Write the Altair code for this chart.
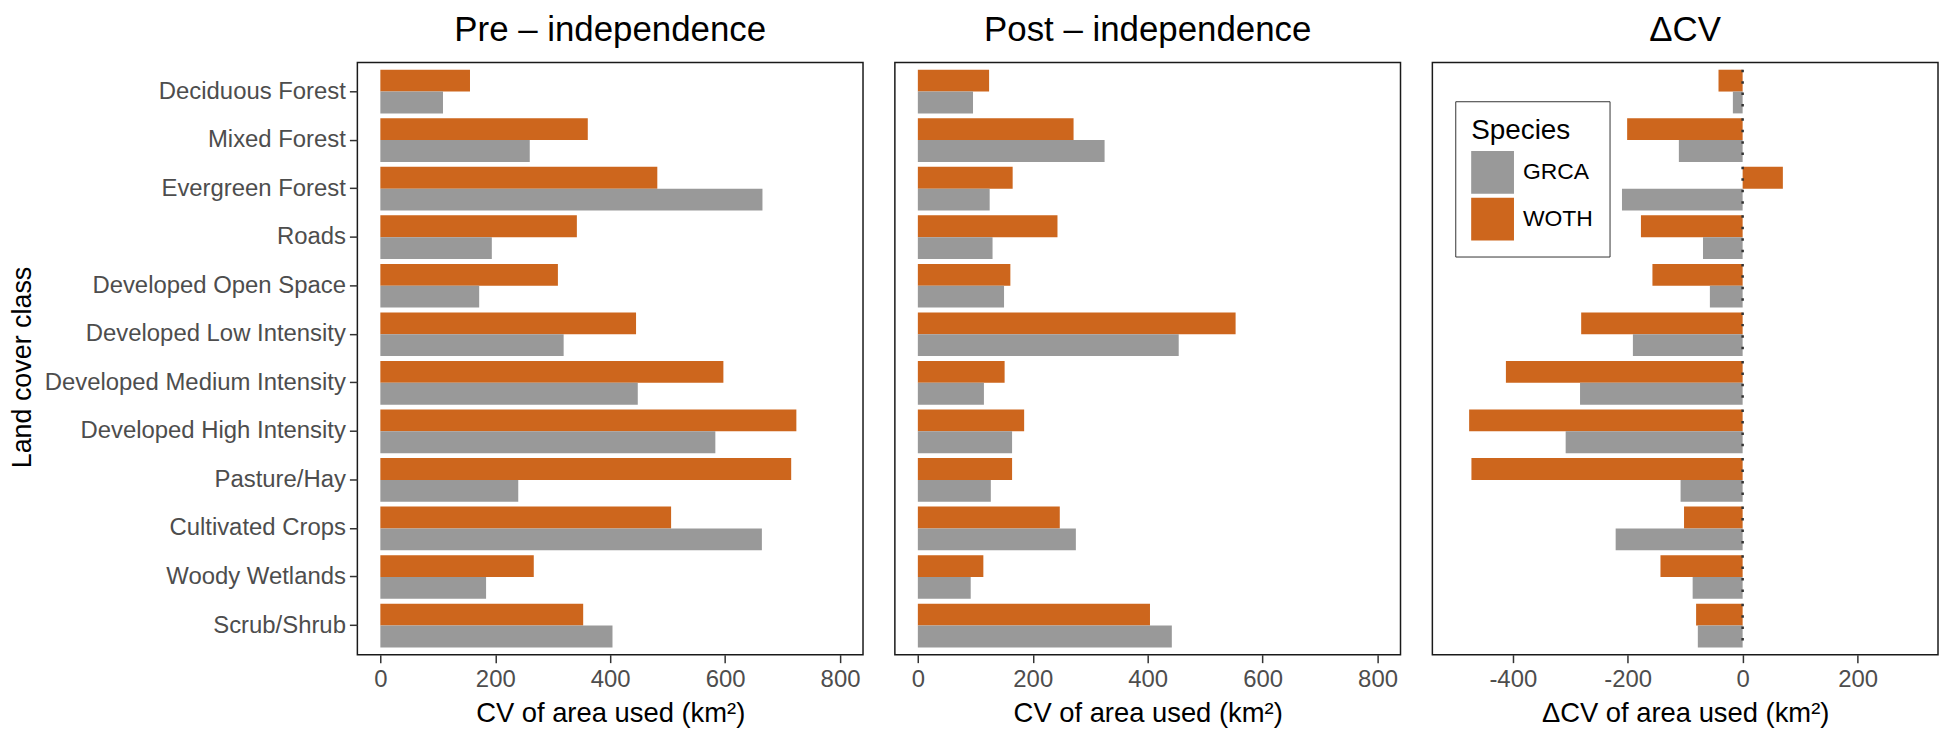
import altair as alt
import pandas as pd

categories = [
    "Deciduous Forest", "Mixed Forest", "Evergreen Forest", "Roads",
    "Developed Open Space", "Developed Low Intensity", "Developed Medium Intensity",
    "Developed High Intensity", "Pasture/Hay", "Cultivated Crops",
    "Woody Wetlands", "Scrub/Shrub",
]
species = ["GRCA", "WOTH"]
species_colors = ["#999999", "#CD661D"]

pre_woth = [156, 361, 482, 342, 309, 445, 597, 724, 715, 506, 267, 353]
pre_grca = [109, 260, 665, 194, 172, 319, 448, 583, 240, 664, 184, 404]

post_woth = [124, 271, 165, 243, 161, 553, 151, 185, 164, 247, 114, 404]
post_grca = [96, 325, 125, 130, 150, 454, 115, 164, 127, 275, 92, 442]

delta_woth = [-42, -201, 70, -177, -157, -281, -412, -476, -472, -102, -143, -81]
delta_grca = [-17, -111, -210, -69, -57, -191, -283, -308, -108, -221, -87, -78]

cv_ticks = [0, 200, 400, 600, 800]
delta_ticks = [-400, -200, 0, 200]


def make_df(woth, grca):
    rows = []
    for c, w, g in zip(categories, woth, grca):
        rows.append({"Category": c, "Species": "WOTH", "Value": w})
        rows.append({"Category": c, "Species": "GRCA", "Value": g})
    return pd.DataFrame(rows)


FONT = "Liberation Sans"
W, H = 508, 595


def panel(df, title, domain, ticks, xtitle, show_y, legend):
    y_axis = None
    if show_y:
        y_axis = alt.Axis(
            title="Land cover class", labelFontSize=24, labelColor="#4D4D4D",
            tickSize=8, tickWidth=1.5, tickColor="#333333", labelPadding=4,
            titleFontSize=27, titleFontWeight="normal",
            titleColor="black", domain=False, titleX=-322, titleY=306,
            titleAngle=270, titleBaseline="bottom", titleAlign="center",
            labelFont=FONT, titleFont=FONT, labelLimit=400,
        )
    yenc = alt.Y(
        "Category:N", sort=categories,
        scale=alt.Scale(domain=categories, paddingInner=0.1, paddingOuter=0.15),
        axis=y_axis,
    )
    xenc = alt.X(
        "Value:Q",
        scale=alt.Scale(domain=domain, nice=False, zero=False),
        axis=alt.Axis(
            values=ticks, title=xtitle, labelFontSize=24, labelColor="#4D4D4D",
            tickSize=8, tickWidth=1.5, tickColor="#333333", labelPadding=5,
            titlePadding=8, titleFontSize=27.5, titleFontWeight="normal",
            titleColor="black", domain=False, grid=False, labelFlush=False,
            labelExpr="'' + datum.value", labelFont=FONT, titleFont=FONT,
        ),
    )
    bars = alt.Chart(df).mark_bar().encode(
        y=yenc,
        yOffset=alt.YOffset("Species:N", sort=["WOTH", "GRCA"],
                            scale=alt.Scale(domain=["WOTH", "GRCA"], paddingInner=0, paddingOuter=0)),
        x=xenc,
        x2=alt.datum(0),
        color=alt.Color("Species:N", scale=alt.Scale(domain=species, range=species_colors),
                        legend=legend),
    )
    layers = [bars]
    if legend is not None:
        rule = alt.Chart(pd.DataFrame({"Category": categories})).mark_rule(
            color="#333333", strokeDash=[2.5, 9], strokeWidth=2.5
        ).encode(
            x=alt.datum(0),
            y=alt.Y("Category:N", sort=categories, bandPosition=0),
            y2=alt.Y2("Category:N", bandPosition=1),
        )
        layers.append(rule)
    ch = alt.layer(*layers).properties(
        width=W, height=H,
        title=alt.TitleParams(text=title, fontSize=35, fontWeight="normal", color="black",
                              anchor="middle", offset=15, font=FONT),
    )
    return ch


legend = alt.Legend(
    orient="none", legendX=23, legendY=39, title="Species", titleFontSize=28,
    titleFontWeight="normal", titleColor="black", labelFontSize=23, labelColor="black",
    symbolType="square", symbolSize=1849, symbolStrokeWidth=0, strokeColor="#333333",
    fillColor="white", padding=16, rowPadding=4, labelOffset=9, titlePadding=6,
    titleFont=FONT, labelFont=FONT,
)

p1 = panel(make_df(pre_woth, pre_grca), "Pre – independence", [-40, 840], cv_ticks,
           "CV of area used (km²)", True, None)
p2 = panel(make_df(post_woth, post_grca), "Post – independence", [-40, 840], cv_ticks,
           "CV of area used (km²)", False, None)
p3 = panel(make_df(delta_woth, delta_grca), "ΔCV", [-540, 340], delta_ticks,
           "ΔCV of area used (km²)", False, legend)

chart = alt.hconcat(p1, p2, p3, spacing=30).resolve_scale(
    color="independent", y="independent", x="independent"
).properties(
    padding={"left": 0, "top": 2, "right": 0, "bottom": 0}
).configure(font=FONT).configure_view(stroke="#1a1a1a", strokeWidth=1.5)

chart.save("out.html", embed_options={"renderer": "svg", "actions": False})
